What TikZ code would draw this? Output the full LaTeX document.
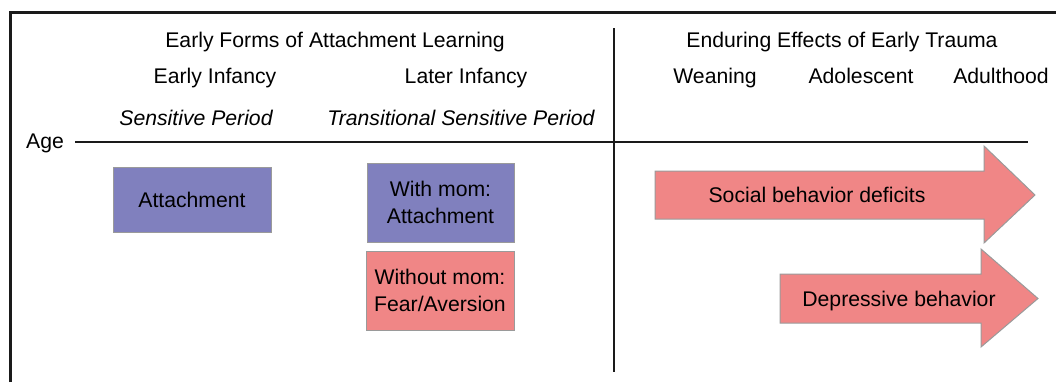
\documentclass[tikz,border=0pt]{standalone}
\usepackage{fontspec}
\setmainfont{Liberation Sans}
\usetikzlibrary{positioning}
\definecolor{ink}   {HTML}{1A1A1A}
\definecolor{lilac} {HTML}{8080BE}
\definecolor{salmon}{HTML}{F08686}
\definecolor{rim}   {HTML}{9A9A9A}
\tikzset{
  every node/.style={font=\fontsize{10.6}{13.6}\selectfont, inner sep=0pt},
  % --- text
  hdr/.style   = {anchor=base},
  per/.style   = {hdr, font=\fontsize{10.6}{13.6}\selectfont\itshape},
  % --- boxes
  box/.style   = {draw=rim, line width=0.5pt, align=center},
  calm/.style  = {box, fill=lilac},
  harm/.style  = {box, fill=salmon},
  effect/.style= {fill=salmon, draw=rim, line width=0.5pt, line join=miter},
  % --- lines
  axis/.style  = {draw=ink, line width=1pt},
  frame/.style = {draw=ink, line width=1.3pt},
}

\begin{document}
\begin{tikzpicture}[x=0.5pt,y=-0.5pt]
  \useasboundingbox (0,0) rectangle (1056,382);
  \draw[frame] (10.5,382) -- (10.5,12.5) -- (1056,12.5);

  % headings
  \node[hdr] (early)  at (335,47)  {Early Forms of Attachment Learning};
  \node[hdr] (lasting) at (842,47) {Enduring Effects of Early Trauma};
  \node[hdr] (infA) at (215,83)  {Early Infancy};
  \node[hdr] (infB) at (466,83)  {Later Infancy};
  \node[hdr] (wean) at (715,83)  {Weaning};
  \node[hdr] (adol) at (861,83)  {Adolescent};
  \node[hdr] (adul) at (1001,83) {Adulthood};
  \node[per] (sp)  at (196,125) {Sensitive Period};
  \node[per] (tsp) at (461,125) {Transitional Sensitive Period};

  % age axis and divider
  \node[hdr] (age) at (45,148) {Age};
  \coordinate (t0) at (75,142);
  \coordinate (t1) at (1028,142);
  \draw[axis] (t0) -- (t1);
  \coordinate (d0) at (614,28);
  \coordinate (d1) at (614,372);
  \draw[axis] (d0) -- (d1);

  % learning outcomes
  \node[calm, minimum width=79pt, minimum height=32.5pt] (att) at (192,199.5) {Attachment};
  \node[calm, minimum width=73.5pt, minimum height=39.5pt] (with) at (440.5,202.5) {With mom:\\Attachment};
  \node[harm, minimum width=74pt, minimum height=39.5pt] (without) at (440,290.5) {Without mom:\\Fear/Aversion};

  % lasting effects
  \filldraw[effect] (655,171) -- (984,171) -- (984,146) -- (1035,195)
                    -- (984,243) -- (984,219) -- (655,219) -- cycle;
  \filldraw[effect] (780,274) -- (981,274) -- (981,249) -- (1038,298.5)
                    -- (981,347) -- (981,323) -- (780,323) -- cycle;
  \node (social) at (817,195) {Social behavior deficits};
  \node (depr)   at (899,301) {Depressive behavior};
\end{tikzpicture}
\end{document}
